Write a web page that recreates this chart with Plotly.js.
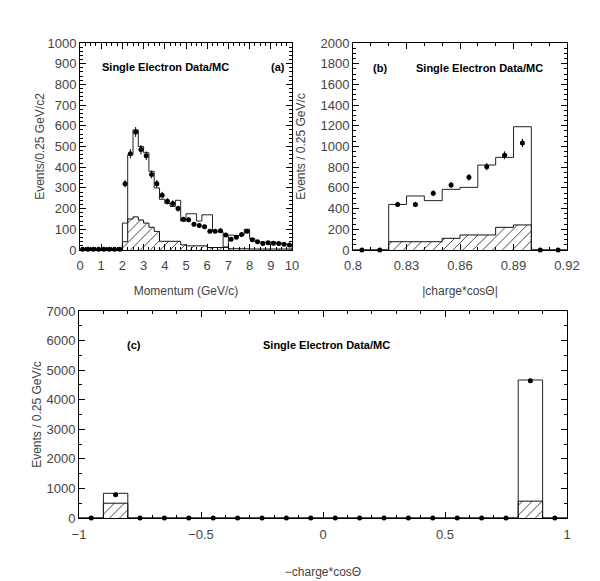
<!DOCTYPE html>
<html>
<head>
<meta charset="utf-8">
<script src="https://cdn.plot.ly/plotly-3.0.1.min.js"></script>
<style>html,body{margin:0;padding:0;background:#fff;}#chart{width:600px;height:581px;}</style>
</head>
<body>
<div id="chart"></div>
<script>
// ---------- Panel (a): momentum ----------
const momentumEdges = [0,0.25,0.5,0.75,1,1.25,1.5,1.75,2,2.25,2.5,2.75,3,3.25,3.5,3.75,4,4.25,4.5,4.75,5,5.25,5.5,5.75,6,6.25,6.5,6.75,7,7.25,7.5,7.75,8,8.25,8.5,8.75,9,9.25,9.5,9.75,10];
const dataA    = [4,4,4,4,4,4,4,4,320,465,570,485,455,365,320,265,235,225,200,148,146,124,118,112,90,90,93,72,52,62,75,90,50,40,32,35,33,32,28,24];
const errA     = [2,2,2,2,2,2,2,2,18,22,24,22,21,19,18,16,15,15,14,12,12,11,11,11,9,9,10,8,7,8,9,9,7,6,6,6,6,6,5,5];
const mcTotalA = [0,0,0,0,0,0,0,0,130,460,580,500,470,380,300,245,225,210,240,140,175,175,140,170,170,90,88,15,72,70,72,100,55,40,38,38,38,35,30,25];
const mcBkgA   = [0,0,0,0,0,0,0,0,40,150,160,145,130,110,90,42,42,42,42,25,20,20,20,20,12,12,12,12,6,6,6,6,5,5,5,5,5,5,5,5];

// ---------- Panel (b): |charge*cos(theta)| ----------
const absCosEdges = [0.80,0.81,0.82,0.83,0.84,0.85,0.86,0.87,0.88,0.89,0.90,0.91,0.92];
const dataB    = [0,0,440,440,548,628,702,805,915,1035,0,0];
const errB     = [0,0,25,25,28,30,32,35,38,40,0,0];
const mcTotalB = [0,0,440,522,477,586,605,821,895,1191,0,0];
const mcBkgB   = [0,0,80,80,80,113,145,145,219,242,0,0];

// ---------- Panel (c): -charge*cos(theta) ----------
const signedCosEdges = [-1,-0.9,-0.8,-0.7,-0.6,-0.5,-0.4,-0.3,-0.2,-0.1,0,0.1,0.2,0.3,0.4,0.5,0.6,0.7,0.8,0.9,1];
const dataC    = [0,790,0,0,0,0,0,0,0,0,0,0,0,0,0,0,0,0,4640,0];
const errC     = [0,30,0,0,0,0,0,0,0,0,0,0,0,0,0,0,0,0,70,0];
const mcTotalC = [0,835,0,0,0,0,0,0,0,0,0,0,0,0,0,0,0,0,4667,0];
const mcBkgC   = [0,500,0,0,0,0,0,0,0,0,0,0,0,0,0,0,0,0,570,0];

const panelLabels = ['(a)','(b)','(c)'];
const plotTitle = 'Single Electron Data/MC';

function centers(edges){ const c=[]; for(let i=0;i<edges.length-1;i++) c.push((edges[i]+edges[i+1])/2); return c; }
function steps(edges, vals){
  const x=[edges[0]], y=[0];
  for(let i=0;i<vals.length;i++){ x.push(edges[i]); y.push(vals[i]); }
  x.push(edges[edges.length-1]); y.push(0);
  return {x, y};
}

const traces = [];
function addPanel(edges, data, err, tot, bkg, xa, ya){
  const sb = steps(edges, bkg);
  traces.push({type:'scatter', mode:'lines', x:sb.x, y:sb.y, xaxis:xa, yaxis:ya,
    line:{shape:'hv', color:'#111', width:1}, fill:'tozeroy', fillcolor:'rgba(0,0,0,0)',
    fillpattern:{shape:'/', fgcolor:'#222', bgcolor:'rgba(0,0,0,0)', size:7, solidity:0.12},
    hoverinfo:'skip', showlegend:false});
  const st = steps(edges, tot);
  traces.push({type:'scatter', mode:'lines', x:st.x, y:st.y, xaxis:xa, yaxis:ya,
    line:{shape:'hv', color:'#222', width:1}, hoverinfo:'skip', showlegend:false});
  traces.push({type:'scatter', mode:'markers', x:centers(edges), y:data, xaxis:xa, yaxis:ya,
    marker:{color:'#000', size:5}, cliponaxis:false,
    error_y:{type:'data', array:err, visible:true, color:'#000', thickness:1, width:0},
    showlegend:false});
}
addPanel(momentumEdges, dataA, errA, mcTotalA, mcBkgA, 'x', 'y');
addPanel(absCosEdges, dataB, errB, mcTotalB, mcBkgB, 'x2', 'y2');
addPanel(signedCosEdges, dataC, errC, mcTotalC, mcBkgC, 'x3', 'y3');

const FAM = 'Liberation Sans, Arial, sans-serif';
const tickFont = {family:FAM, size:13, color:'#444'};
const titleFont = {family:FAM, size:12, color:'#444'};
function axis(extra){
  return Object.assign({showline:true, linecolor:'#000', linewidth:1, mirror:'allticks',
    ticks:'inside', ticklen:6, tickcolor:'#000', tickwidth:1, showgrid:false, zeroline:false,
    tickfont:tickFont, fixedrange:true}, extra);
}
// mirror axes carrying the minor ticks on the top and right frame edges
function mirrorAxis(extra){
  return Object.assign({showline:false, ticks:'inside', ticklen:6, tickcolor:'#000', tickwidth:1,
    showgrid:false, zeroline:false, showticklabels:false, fixedrange:true}, extra);
}
const minor = (d)=>({dtick:d, ticks:'inside', ticklen:3, tickcolor:'#000', showgrid:false});

const H = 581, W = 600;
const domA = [80/W, 292/W], domB = [353/W, 567/W], domC = [79/W, 567/W];
const domTop = [(H-250)/H, (H-43)/H], domBot = [(H-518)/H, (H-311)/H];
const layout = {
  width:W, height:H, margin:{l:0,r:0,t:0,b:0}, paper_bgcolor:'#fff', plot_bgcolor:'#fff',
  showlegend:false,
  xaxis: axis({domain:domA, range:[0,10], dtick:1, tick0:0, minor:minor(0.25), anchor:'y', ticklabelstandoff:3,
    title:{text:'Momentum (GeV/c)', font:titleFont, standoff:15}}),
  yaxis: axis({domain:domTop, range:[0,1000], dtick:100, minor:minor(20), anchor:'x',
    title:{text:'Events/0.25 GeV/c2', font:titleFont, standoff:0}}),
  xaxis2: axis({domain:domB, range:[0.8,0.92], dtick:0.03, tick0:0.8, minor:minor(0.01), anchor:'y2', ticklabelstandoff:3,
    title:{text:'|charge*cosΘ|', font:titleFont, standoff:15}}),
  yaxis2: axis({domain:domTop, range:[0,2000], dtick:200, minor:minor(50), anchor:'x2',
    title:{text:'Events / 0.25 GeV/c', font:titleFont, standoff:12}}),
  xaxis3: axis({domain:domC, range:[-1,1], dtick:0.5, tick0:0, minor:minor(0.1), anchor:'y3', ticklabelstandoff:4,
    title:{text:'−charge*cosΘ', font:titleFont, standoff:27}}),
  yaxis3: axis({domain:domBot, range:[0,7000], dtick:1000, minor:minor(500), anchor:'x3',
    title:{text:'Events / 0.25 GeV/c', font:titleFont, standoff:2}}),
  xaxis4: mirrorAxis({overlaying:'x', side:'top', anchor:'y', range:[0,10], dtick:1, tick0:0, minor:minor(0.25)}),
  yaxis4: mirrorAxis({overlaying:'y', side:'right', anchor:'x', range:[0,1000], dtick:100, minor:minor(20)}),
  xaxis5: mirrorAxis({overlaying:'x2', side:'top', anchor:'y2', range:[0.8,0.92], dtick:0.03, tick0:0.8, minor:minor(0.01)}),
  yaxis5: mirrorAxis({overlaying:'y2', side:'right', anchor:'x2', range:[0,2000], dtick:200, minor:minor(50)}),
  xaxis6: mirrorAxis({overlaying:'x3', side:'top', anchor:'y3', range:[-1,1], dtick:0.5, tick0:0, minor:minor(0.1)}),
  yaxis6: mirrorAxis({overlaying:'y3', side:'right', anchor:'x3', range:[0,7000], dtick:1000, minor:minor(500)}),
  annotations:[
    [165, 67, '<b>'+plotTitle+'</b>'], [278, 67, '<b>'+panelLabels[0]+'</b>'],
    [479, 68, '<b>'+plotTitle+'</b>'], [380, 68, '<b>'+panelLabels[1]+'</b>'],
    [326, 345, '<b>'+plotTitle+'</b>'], [134, 345, '<b>'+panelLabels[2]+'</b>']
  ].map(a=>({xref:'paper', yref:'paper', x:a[0]/W, y:(H-a[1])/H, xanchor:'center', yanchor:'middle',
    text:a[2], showarrow:false, font:{family:FAM, size:11, color:'#000'}}))
};
// empty traces so the mirror axes are drawn
[['x4','y4'],['x5','y5'],['x6','y6']].forEach(p=>traces.push({type:'scatter', mode:'markers', x:[], y:[], xaxis:p[0], yaxis:p[1], showlegend:false, hoverinfo:'skip'}));
Plotly.newPlot('chart', traces, layout, {displayModeBar:false, staticPlot:true});
</script>
</body>
</html>
